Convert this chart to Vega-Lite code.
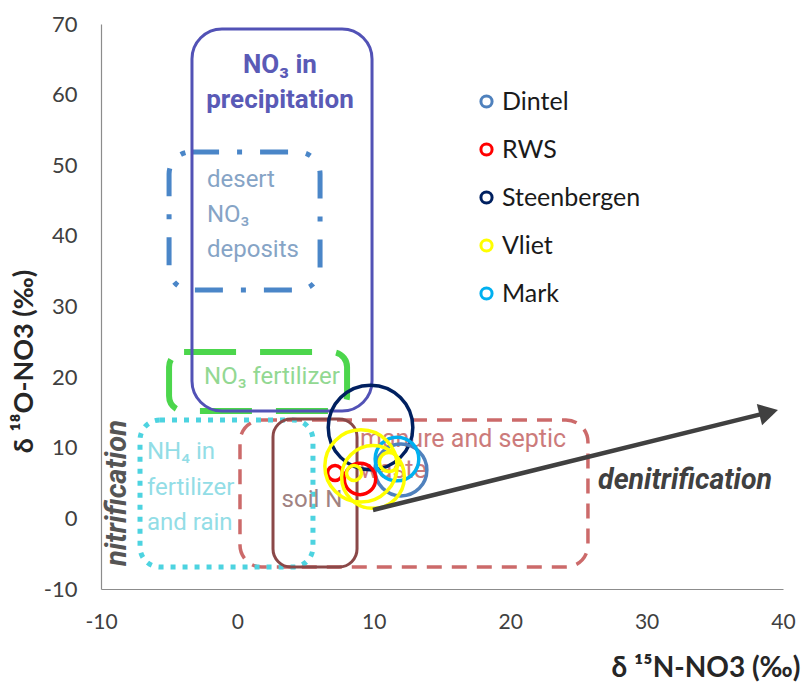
{
  "$schema": "https://vega.github.io/schema/vega-lite/v6.json",
  "width": 682,
  "height": 565,
  "autosize": {"type": "none"},
  "padding": {"left": 101, "top": 24, "right": 25, "bottom": 97},
  "background": "white",
  "config": {
    "view": {"stroke": null},
    "axis": {"grid": false, "ticks": false, "domainColor": "#8c8c8c", "domainWidth": 1.2, "labelColor": "#404040", "labelFont": "Lato", "titleFont": "Lato", "titleFontWeight": "bold", "titleColor": "#262626"}
  },
  "encoding": {
    "x": {"field": "x", "type": "quantitative", "scale": {"domain": [-10, 40], "nice": false, "zero": false},
      "axis": {"values": [-10, 0, 10, 20, 30, 40], "labelExpr": "'' + datum.value", "labelFontSize": 21, "labelPadding": 22, "labelFlush": false,
        "title": "δ ¹⁵N-NO3 (‰)", "titleFontSize": 28, "titleAlign": "right", "titleAnchor": "end", "titleX": 699, "titleY": 79, "titleBaseline": "middle"}},
    "y": {"field": "y", "type": "quantitative", "scale": {"domain": [-10, 70], "nice": false, "zero": false},
      "axis": {"values": [-10, 0, 10, 20, 30, 40, 50, 60, 70], "labelExpr": "'' + datum.value", "labelFontSize": 22, "labelPadding": 24,
        "title": "δ ¹⁸O-NO3 (‰)", "titleFontSize": 27, "titleAngle": -90, "titleX": -77, "titleY": 337, "titleAlign": "center", "titleBaseline": "middle"}}
  },
  "layer": [
    {
      "data": {"values": [{"name": "manure and septic waste", "x": 0.19, "x2": 25.7, "y": -6.89, "y2": 13.93}]},
      "mark": {"type": "rect", "fill": null, "stroke": "#c65a5a", "strokeWidth": 3.5, "strokeDash": [15, 10], "cornerRadius": 22, "opacity": 0.9},
      "encoding": {"x2": {"field": "x2"}, "y2": {"field": "y2"}}
    },
    {
      "data": {"values": [{"name": "NH4 in fertilizer and rain", "x": -7.14, "x2": 5.54, "y": -6.89, "y2": 13.93}]},
      "mark": {"type": "rect", "fill": null, "stroke": "#4dd3e0", "strokeWidth": 5, "strokeDash": [5, 7], "cornerRadius": 20},
      "encoding": {"x2": {"field": "x2"}, "y2": {"field": "y2"}}
    },
    {
      "data": {"values": [{"name": "soil N", "x": 2.61, "x2": 8.77, "y": -6.89, "y2": 14.07}]},
      "mark": {"type": "rect", "fill": null, "stroke": "#8b4848", "strokeWidth": 3, "cornerRadius": 18},
      "encoding": {"x2": {"field": "x2"}, "y2": {"field": "y2"}}
    },
    {
      "data": {"values": [{"name": "NO3 fertilizer", "x": -5.01, "x2": 8.04, "y": 15.2, "y2": 23.56}]},
      "mark": {"type": "rect", "fill": null, "stroke": "#4cd64c", "strokeWidth": 6, "strokeDash": [52, 24], "cornerRadius": 15},
      "encoding": {"x2": {"field": "x2"}, "y2": {"field": "y2"}}
    },
    {
      "data": {"values": [{"name": "desert NO3 deposits", "x": -5.01, "x2": 6.06, "y": 32.34, "y2": 51.88}]},
      "mark": {"type": "rect", "fill": null, "stroke": "#4a86c8", "strokeWidth": 5, "strokeDash": [28, 18, 5, 18], "cornerRadius": 22},
      "encoding": {"x2": {"field": "x2"}, "y2": {"field": "y2"}}
    },
    {
      "data": {"values": [{"name": "NO3 in precipitation", "x": -3.33, "x2": 9.87, "y": 15.2, "y2": 69.29}]},
      "mark": {"type": "rect", "fill": null, "stroke": "#5252b6", "strokeWidth": 3, "cornerRadius": 30},
      "encoding": {"x2": {"field": "x2"}, "y2": {"field": "y2"}}
    },
    {
      "data": {"values": [
        {"label": "NO₃ in", "x": 3.12, "y": 64.19},
        {"label": "precipitation", "x": 3.12, "y": 59.24}
      ]},
      "mark": {"type": "text", "font": "Roboto", "fontSize": 26, "fontWeight": "bold", "color": "#5a5ab6", "align": "center", "baseline": "middle"},
      "encoding": {"text": {"field": "label"}}
    },
    {
      "data": {"values": [
        {"label": "desert", "x": -2.23, "y": 47.91},
        {"label": "NO₃", "x": -2.23, "y": 42.96},
        {"label": "deposits", "x": -2.23, "y": 38.0}
      ]},
      "mark": {"type": "text", "font": "Roboto", "fontSize": 24, "color": "#86a4c6", "align": "left", "baseline": "middle"},
      "encoding": {"text": {"field": "label"}}
    },
    {
      "data": {"values": [{"label": "NO₃ fertilizer", "x": 2.54, "y": 20.02}]},
      "mark": {"type": "text", "font": "Roboto", "fontSize": 24, "color": "#92d892", "align": "center", "baseline": "middle"},
      "encoding": {"text": {"field": "label"}}
    },
    {
      "data": {"values": [
        {"label": "NH₄ in", "x": -6.63, "y": 9.4},
        {"label": "fertilizer", "x": -6.63, "y": 4.3},
        {"label": "and rain", "x": -6.63, "y": -0.65}
      ]},
      "mark": {"type": "text", "font": "Roboto", "fontSize": 24, "color": "#92dde6", "align": "left", "baseline": "middle"},
      "encoding": {"text": {"field": "label"}}
    },
    {
      "data": {"values": [{"label": "soil N", "x": 5.47, "y": 2.6}]},
      "mark": {"type": "text", "font": "Roboto", "fontSize": 24, "color": "#a08282", "align": "center", "baseline": "middle"},
      "encoding": {"text": {"field": "label"}}
    },
    {
      "data": {"values": [
        {"label": "manure and septic", "x": 8.99, "y": 11.24},
        {"label": "waste", "x": 8.99, "y": 6.85}
      ]},
      "mark": {"type": "text", "font": "Roboto", "fontSize": 25, "color": "#cc7b7b", "align": "left", "baseline": "middle"},
      "encoding": {"text": {"field": "label"}}
    },
    {
      "data": {"values": [{"label": "denitrification", "x": 32.82, "y": 5.43}]},
      "mark": {"type": "text", "font": "Roboto", "fontSize": 28.5, "fontWeight": "bold", "fontStyle": "italic", "color": "#404040", "align": "center", "baseline": "middle"},
      "encoding": {"text": {"field": "label"}}
    },
    {
      "data": {"values": [{"label": "nitrification", "x": -8.83, "y": 3.59}]},
      "mark": {"type": "text", "font": "Roboto", "fontSize": 29, "fontWeight": "bold", "fontStyle": "italic", "color": "#555555", "align": "center", "baseline": "middle", "angle": -90},
      "encoding": {"text": {"field": "label"}}
    },
    {
      "data": {"values": [
        {"site": "Steenbergen", "x": 9.76, "y": 12.87, "sd": 3.1},
        {"site": "Dintel", "x": 11.99, "y": 6.85, "sd": 1.9},
        {"site": "Mark", "x": 11.7, "y": 8.41, "sd": 1.6},
        {"site": "RWS", "x": 7.16, "y": 6.43, "sd": 0.55},
        {"site": "RWS", "x": 8.99, "y": 5.58, "sd": 1.15},
        {"site": "Vliet", "x": 9.06, "y": 7.42, "sd": 2.65},
        {"site": "Vliet", "x": 9.94, "y": 5.86, "sd": 2.3},
        {"site": "Vliet", "x": 8.55, "y": 6.43, "sd": 0.55},
        {"site": "Vliet", "x": 11.11, "y": 7.98, "sd": 0.7}
      ]},
      "mark": {"type": "point", "shape": "circle", "filled": false, "strokeWidth": 3.5, "opacity": 1},
      "encoding": {
        "color": {"field": "site", "type": "nominal",
          "scale": {"domain": ["Dintel", "RWS", "Steenbergen", "Vliet", "Mark"], "range": ["#4f81bd", "#ff0000", "#002060", "#ffff00", "#00b0f0"]},
          "legend": {"title": null, "orient": "none", "legendX": 373, "legendY": 65, "padding": 0, "symbolType": "circle", "symbolSize": 125, "symbolStrokeWidth": 3, "labelFont": "Lato", "labelFontSize": 25, "labelColor": "#1a1a1a", "labelOffset": 3, "rowPadding": 22}},
        "size": {"field": "sd", "type": "quantitative", "scale": {"type": "pow", "exponent": 2, "domain": [0, 10], "range": [0, 74420], "zero": true}, "legend": null}
      }
    },
    {
      "data": {"values": [{"x": 9.94, "y": 1.19}, {"x": 38.95, "y": 15.02}]},
      "mark": {"type": "line", "color": "#404040", "strokeWidth": 4.5},
      "encoding": {}
    },
    {
      "data": {"values": [{"x": 38.95, "y": 15.02}]},
      "mark": {"type": "point", "shape": "triangle-right", "filled": true, "color": "#404040", "size": 484, "angle": -13.9, "opacity": 1},
      "encoding": {}
    }
  ]
}
